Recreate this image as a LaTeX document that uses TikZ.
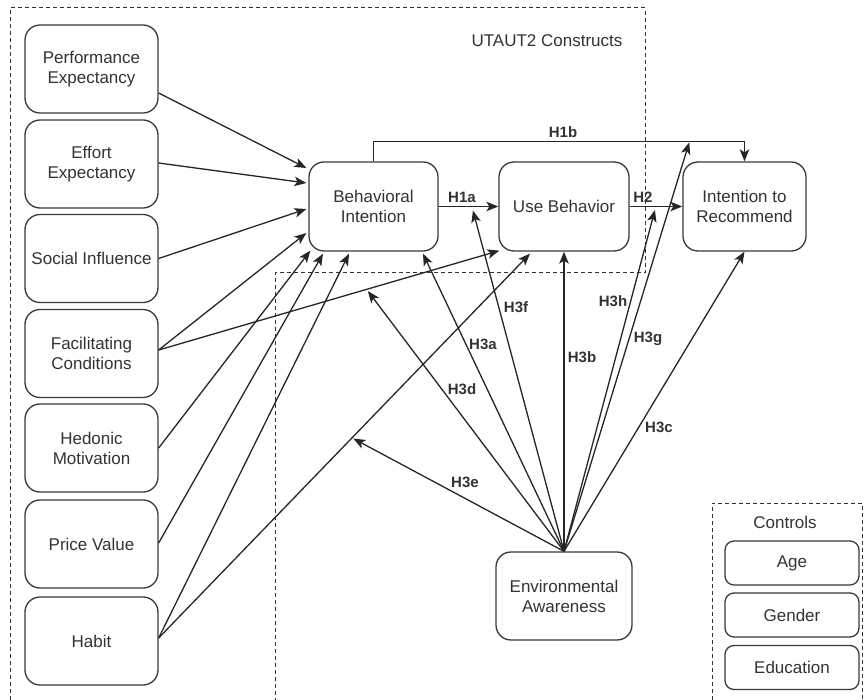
\documentclass[tikz,border=0pt]{standalone}
\usepackage{fontspec}
\setmainfont{Liberation Sans}
\usetikzlibrary{arrows.meta,calc}
\definecolor{txt}{HTML}{333333}
\definecolor{edge}{HTML}{3A3A3A}
\tikzset{
  box/.style={draw=edge, line width=1.3pt, rounded corners=15pt, align=center,
    text=txt, font=\fontsize{17}{20}\selectfont, inner sep=0pt},
  lbox/.style={box, minimum width=133pt, minimum height=88pt},
  cbox/.style={box, rounded corners=9pt, minimum width=134pt, minimum height=44pt},
  arr/.style={draw=black!85, line width=1.3pt, -{Stealth[length=12pt,width=9.5pt,inset=3pt]}},
  ln/.style={draw=black!85, line width=1.3pt},
  dbox/.style={draw=black!80, line width=1pt, dash pattern=on 4pt off 3pt},
  hl/.style={font=\fontsize{15}{17}\selectfont\bfseries, text=txt, inner sep=0pt},
  tl/.style={font=\fontsize{17}{20}\selectfont, text=txt, inner sep=0pt}
}
\begin{document}
\begin{tikzpicture}[x=1pt,y=-1pt]
\useasboundingbox[fill=white] (0,0) rectangle (865,700);
% dashed groups
\draw[dbox] (10,700) -- (10,8) -- (645,8) -- (645,273) -- (275,273) -- (275,700);
\draw[dbox] (712,700) -- (712,503) -- (862,503) -- (862,700);
\node[tl] (utaut) at (547,41) {UTAUT2 Constructs};
\node[tl] (ctrl) at (785,522) {Controls};
% left column
\node[lbox] (pe) at (91.5,69) {Performance\\Expectancy};
\node[lbox] (ee) at (91.5,164) {Effort\\Expectancy};
\node[lbox] (si) at (91.5,258.5) {Social Influence};
\node[lbox] (fc) at (91.5,353.5) {Facilitating\\Conditions};
\node[lbox] (hm) at (91.5,448) {Hedonic\\Motivation};
\node[lbox] (pv) at (91.5,544) {Price Value};
\node[lbox] (hab) at (91.5,641) {Habit};
% main nodes
\node[box, minimum width=129pt, minimum height=89pt] (bi) at (373.5,206.5) {Behavioral\\Intention};
\node[box, minimum width=130pt, minimum height=89pt] (ub) at (564,206.5) {Use Behavior};
\node[box, minimum width=123pt, minimum height=89pt] (ir) at (744.5,206.5) {Intention to\\Recommend};
\node[box, minimum width=136pt, minimum height=88pt] (ea) at (564,596) {Environmental\\Awareness};
% controls
\node[cbox] (age) at (792,563) {Age};
\node[cbox] (gen) at (792,615) {Gender};
\node[cbox] (edu) at (792,667.5) {Education};
% UTAUT2 -> BI
\draw[arr] ($(pe.east)+(0,24)$) -- ($(bi.west)+(-2,-38.5)$);
\draw[arr] ($(ee.east)+(0,-1)$) -- ($(bi.west)+(-2,-23.5)$);
\draw[arr] (si.east) -- ($(bi.west)+(-2,2.5)$);
\draw[arr] ($(fc.east)+(0,-3.5)$) -- ($(bi.west)+(-2,26.5)$);
\draw[arr] (hm.east) -- ($(bi.south west)+(2,-1)$);
\draw[arr] ($(pv.east)+(0,-1)$) -- ($(bi.south)+(-50.5,2)$);
\draw[arr] ($(hab.east)+(0,-3)$) -- ($(bi.south)+(-24.5,2)$);
% -> UB
\draw[arr] ($(fc.east)+(0,-3.5)$) -- ($(ub.south west)+(1,-1)$) coordinate[pos=0.614] (mfc);
\draw[arr] ($(hab.east)+(0,-3)$) -- ($(ub.south)+(-34,2)$) coordinate[pos=0.5215] (mhab);
% hypotheses main paths
\draw[arr] (bi.east) -- (ub.west) coordinate[pos=0.574] (mh1a);
\draw[arr] (ub.east) -- (ir.west) coordinate[pos=0.48] (mh2);
\draw[ln] (bi.north) -- ++(0,-20) coordinate (h1bl) -- (h1bl -| ir.north) coordinate (h1br);
\draw[arr] (h1br) -- (ir.north);
\coordinate (mh1b) at ($(h1bl)!0.851!(h1br)$);
% EA arrows
\draw[arr] (ea.north) -- ($(bi.south)+(49.5,2)$);
\draw[arr] (ea.north) -- ($(mfc)+(0,2)$);
\draw[arr] (ea.north) -- ($(mhab)+(1,1)$);
\draw[arr] (ea.north) -- ($(mh1a)+(0,4)$);
\draw[arr] (ea.north) -- (ub.south);
\draw[arr] (ea.north) -- ($(mh2)+(0,3.5)$);
\draw[arr] (ea.north) -- ($(mh1b)+(0,1)$);
\draw[arr] (ea.north) -- (ir.south);
% labels
\node[hl] (lh1a) at (462,197) {H1a};
\node[hl] (lh2) at (643,197) {H2};
\node[hl] (lh1b) at (563,132) {H1b};
\node[hl] (lh3f) at (516,307) {H3f};
\node[hl] (lh3a) at (483,344) {H3a};
\node[hl] (lh3d) at (462,389) {H3d};
\node[hl] (lh3b) at (582,357) {H3b};
\node[hl] (lh3h) at (613,301) {H3h};
\node[hl] (lh3g) at (648,339) {H3g};
\node[hl] (lh3c) at (659,427) {H3c};
\node[hl] (lh3e) at (465,482) {H3e};
\end{tikzpicture}
\end{document}
